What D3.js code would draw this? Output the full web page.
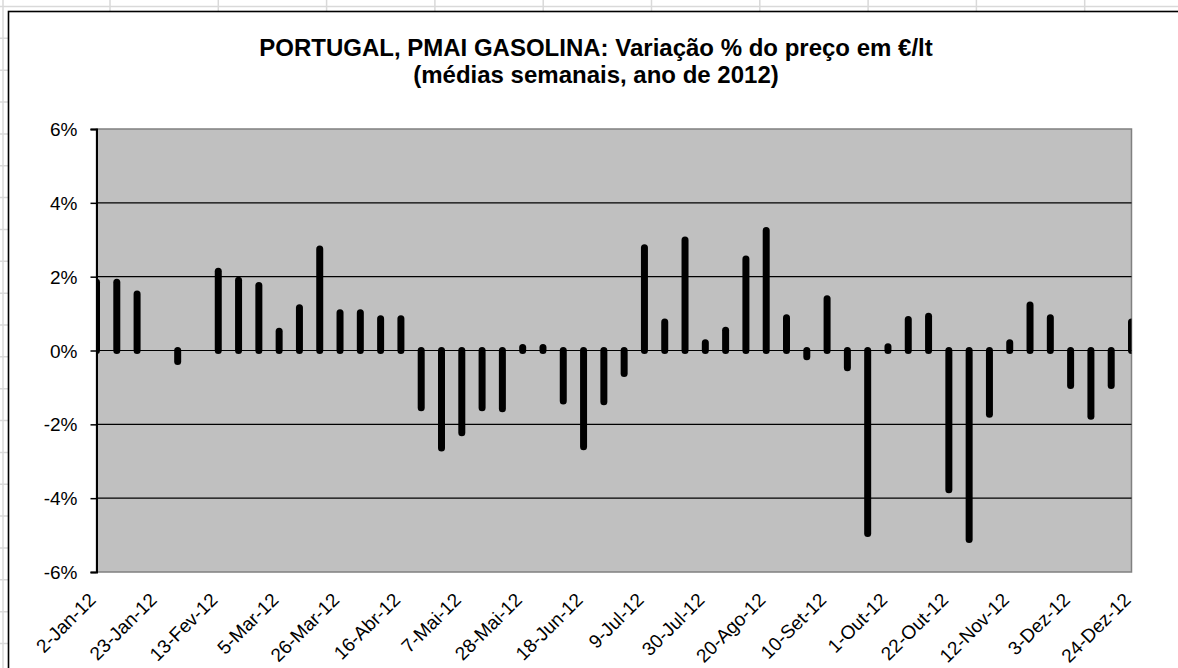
<!DOCTYPE html>
<html>
<head>
<meta charset="utf-8">
<script src="https://cdn.jsdelivr.net/npm/d3@7"></script>
<style>
  html, body { margin: 0; padding: 0; background: #fff; }
  svg { display: block; }
  text { font-family: "Liberation Sans", Arial, sans-serif; fill: #000; }
</style>
</head>
<body>
<svg id="chart" width="1178" height="668"></svg>
<script>
// Weekly average dates (Mondays of 2012)
const weeks = [
  "2-Jan-12","9-Jan-12","16-Jan-12","23-Jan-12","30-Jan-12",
  "6-Fev-12","13-Fev-12","20-Fev-12","27-Fev-12",
  "5-Mar-12","12-Mar-12","19-Mar-12","26-Mar-12",
  "2-Abr-12","9-Abr-12","16-Abr-12","23-Abr-12","30-Abr-12",
  "7-Mai-12","14-Mai-12","21-Mai-12","28-Mai-12",
  "4-Jun-12","11-Jun-12","18-Jun-12","25-Jun-12",
  "2-Jul-12","9-Jul-12","16-Jul-12","23-Jul-12","30-Jul-12",
  "6-Ago-12","13-Ago-12","20-Ago-12","27-Ago-12",
  "3-Set-12","10-Set-12","17-Set-12","24-Set-12",
  "1-Out-12","8-Out-12","15-Out-12","22-Out-12","29-Out-12",
  "5-Nov-12","12-Nov-12","19-Nov-12","26-Nov-12",
  "3-Dez-12","10-Dez-12","17-Dez-12","24-Dez-12"
];

// Weekly % change of the average gasoline price (null = no change recorded)
const changePct = [
  1.85, 1.85, 1.53, null, -0.30,
  null, 2.15, 1.90, 1.76,
  0.52, 1.16, 2.75, 1.02,
  1.02, 0.86, 0.86, -1.55, -2.64,
  -2.23, -1.55, -1.58, 0.08,
  0.08, -1.37, -2.61, -1.39,
  -0.62, 2.78, 0.77, 2.99, 0.21,
  0.55, 2.48, 3.25, 0.89,
  -0.17, 1.40, -0.47, -4.96,
  0.10, 0.84, 0.93, -3.77, -5.12,
  -1.73, 0.21, 1.23, 0.89,
  -0.95, -1.78, -0.95, 0.77
];

// Axis ticks
const yTicks = [-6, -4, -2, 0, 2, 4, 6];
const xTickLabels = weeks.filter((d, i) => i % 3 === 0);

const titleLines = [
  "PORTUGAL, PMAI GASOLINA: Variação % do preço em €/lt",
  "(médias semanais, ano de 2012)"
];

const svg = d3.select("#chart");
const W = 1178, H = 668;

// Worksheet grid behind the chart object
const sheet = svg.append("g");
d3.range(0, 22).forEach(k => {
  const y = 6.5 + 31.85 * k;
  sheet.append("line").attr("x1", 0).attr("x2", W).attr("y1", y).attr("y2", y)
    .attr("stroke", "#d9d9d9").attr("stroke-width", 1.5);
});
[3].concat(d3.range(0, 11).map(k => 110 + 108.3 * k)).forEach(x => {
  sheet.append("line").attr("x1", x).attr("x2", x).attr("y1", 0).attr("y2", H)
    .attr("stroke", "#d9d9d9").attr("stroke-width", 1.5);
});

// Chart area
svg.append("rect")
  .attr("x", 8.5).attr("y", 11.5).attr("width", W + 20).attr("height", H + 20)
  .attr("fill", "#fff").attr("stroke", "#000").attr("stroke-width", 1.6);

const plot = { left: 96.5, right: 1131.5, top: 129, bottom: 572 };

const x = d3.scalePoint().domain(weeks).range([plot.left, plot.right]);
const y = d3.scaleLinear().domain([-6, 6]).range([plot.bottom, plot.top]);

// Plot area
svg.append("rect")
  .attr("x", plot.left).attr("y", plot.top)
  .attr("width", plot.right - plot.left).attr("height", plot.bottom - plot.top)
  .attr("fill", "#c0c0c0").attr("stroke", "#808080").attr("stroke-width", 1.5);

svg.append("clipPath").attr("id", "plotClip")
  .append("rect")
  .attr("x", plot.left).attr("y", plot.top)
  .attr("width", plot.right - plot.left).attr("height", plot.bottom - plot.top);

// Horizontal gridlines
svg.append("g")
  .selectAll("line")
  .data(yTicks.filter(t => t !== 6 && t !== -6))
  .join("line")
  .attr("x1", plot.left).attr("x2", plot.right)
  .attr("y1", d => y(d)).attr("y2", d => y(d))
  .attr("stroke", "#000").attr("stroke-width", 1.2);

// Weekly change bars drawn from 0 to the value
svg.append("g")
  .attr("clip-path", "url(#plotClip)")
  .selectAll("line")
  .data(weeks.map((w, i) => ({ w, v: changePct[i] })).filter(d => d.v !== null))
  .join("line")
  .attr("x1", d => x(d.w)).attr("x2", d => x(d.w))
  .attr("y1", y(0)).attr("y2", d => y(d.v))
  .attr("stroke", "#000").attr("stroke-width", 7)
  .attr("stroke-linecap", "round");

// Y axis
const yAxis = svg.append("g")
  .attr("transform", `translate(${plot.left},0)`)
  .call(d3.axisLeft(y).tickValues(yTicks).tickSize(6).tickPadding(13)
    .tickFormat(d => d + "%"));
yAxis.select(".domain").attr("stroke", "#000").attr("stroke-width", 2);
yAxis.selectAll(".tick line").attr("stroke", "#000").attr("stroke-width", 1.5);
yAxis.selectAll(".tick text")
  .style("font-size", "19px").attr("fill", "#000").attr("dy", "0.35em");

// X axis labels (every third week, rotated)
const xAxis = svg.append("g")
  .attr("transform", `translate(0,${plot.bottom})`)
  .call(d3.axisBottom(x).tickValues(xTickLabels).tickSize(0).tickPadding(0));
xAxis.select(".domain").remove();
xAxis.selectAll(".tick text")
  .style("font-size", "19px")
  .attr("fill", "#000")
  .attr("text-anchor", "end")
  .attr("dy", null)
  .attr("y", 0)
  .attr("transform", "translate(0,29) rotate(-45)");

// Title
svg.append("g").selectAll("text")
  .data(titleLines)
  .join("text")
  .attr("x", 596)
  .attr("y", (d, i) => 56 + i * 27)
  .attr("text-anchor", "middle")
  .style("font-size", "24px")
  .style("font-weight", "bold")
  .text(d => d);
</script>
</body>
</html>
